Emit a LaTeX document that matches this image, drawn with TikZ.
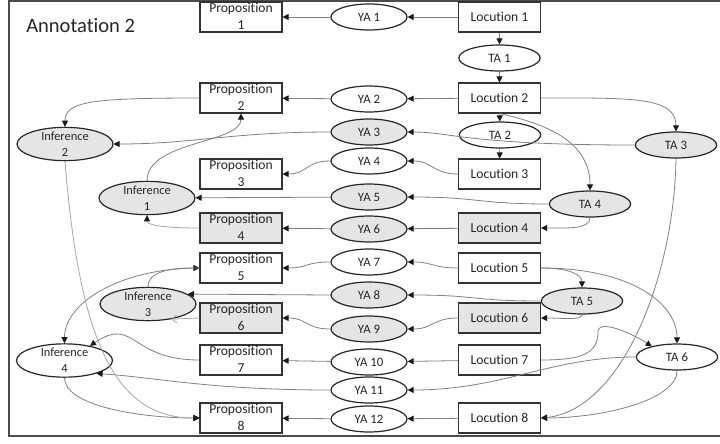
\documentclass[tikz,border=0pt]{standalone}
\usepackage{fontspec}
\setmainfont[Ligatures=NoCommon]{Carlito}
\usetikzlibrary{arrows.meta, shapes.geometric}

% two lines of text that do not stretch the node
\newcommand{\twoline}[2]{\raisebox{-3.2pt}[0pt][0pt]{\begin{tabular}{@{}c@{}}#1\\#2\end{tabular}}}

\begin{document}
\begin{tikzpicture}[x=0.75pt, y=-0.75pt,
    propbox/.style={draw=black!80, line width=0.8pt, fill=white, text=black!85, minimum width=61.5pt, minimum height=22.5pt, inner sep=0pt, font=\fontsize{10.2}{12.6}\selectfont},
    yanode/.style={ellipse, draw=black!85, line width=0.9pt, fill=white, text=black!85, minimum width=57pt, minimum height=19.5pt, inner sep=0pt, font=\fontsize{9.6}{11.5}\selectfont},
    tanode/.style={yanode, minimum width=61pt},
    infnode/.style={yanode, minimum width=72pt, minimum height=25pt, font=\fontsize{9.3}{12}\selectfont},
    shaded/.style={fill=black!10},
    link/.style={draw=black!50, line width=0.6pt, -{Triangle[length=4.5pt, width=4.5pt, color=black!90]}},
    weaklink/.style={draw=black!35, line width=0.6pt, -{Triangle[length=4.5pt, width=4.5pt, color=black!90]}}]
    \useasboundingbox (0,0) rectangle (720,443);
    \draw[black!70, line width=1.2pt] (720,1) -| (9,436) -- (720,436);
    \node[anchor=west, inner sep=0pt, text=black!85, font=\fontsize{15.4}{18}\selectfont] (title) at (26,26) {Annotation 2};

    % Propositions
    \node[propbox] (prop1) at (241,17) {\twoline{Proposition}{1}};
    \node[propbox] (prop2) at (241,98) {\twoline{Proposition}{2}};
    \node[propbox] (prop3) at (241,174) {\twoline{Proposition}{3}};
    \node[propbox, shaded] (prop4) at (241,228) {\twoline{Proposition}{4}};
    \node[propbox] (prop5) at (241,268) {\twoline{Proposition}{5}};
    \node[propbox, shaded] (prop6) at (241,318) {\twoline{Proposition}{6}};
    \node[propbox] (prop7) at (241,360) {\twoline{Proposition}{7}};
    \node[propbox] (prop8) at (241,418) {\twoline{Proposition}{8}};

    % YA nodes
    \node[yanode] (ya1) at (369,17) {YA 1};
    \node[yanode] (ya2) at (369,99) {YA 2};
    \node[yanode, shaded] (ya3) at (369,132) {YA 3};
    \node[yanode] (ya4) at (369,161) {YA 4};
    \node[yanode, shaded] (ya5) at (369,197) {YA 5};
    \node[yanode, shaded] (ya6) at (369,229) {YA 6};
    \node[yanode] (ya7) at (369,262) {YA 7};
    \node[yanode, shaded] (ya8) at (369,295) {YA 8};
    \node[yanode, shaded] (ya9) at (369,329) {YA 9};
    \node[yanode] (ya10) at (369,362) {YA 10};
    \node[yanode] (ya11) at (369,390) {YA 11};
    \node[yanode] (ya12) at (369,419) {YA 12};

    % Locutions
    \node[propbox] (loc1) at (499.5,17) {Locution 1};
    \node[propbox] (loc2) at (499.5,98) {Locution 2};
    \node[propbox] (loc3) at (499.5,174) {Locution 3};
    \node[propbox, shaded] (loc4) at (499.5,228) {Locution 4};
    \node[propbox] (loc5) at (499.5,268) {Locution 5};
    \node[propbox, shaded] (loc6) at (499.5,318) {Locution 6};
    \node[propbox] (loc7) at (499.5,360) {Locution 7};
    \node[propbox] (loc8) at (499.5,418) {Locution 8};

    % TA nodes
    \node[tanode] (ta1) at (499.5,58) {TA 1};
    \node[tanode] (ta2) at (500,135) {TA 2};
    \node[tanode, shaded] (ta3) at (676,145) {TA 3};
    \node[tanode, shaded] (ta4) at (590,204) {TA 4};
    \node[tanode, shaded] (ta5) at (582,301) {TA 5};
    \node[tanode] (ta6) at (677,357) {TA 6};

    % Inferences
    \node[infnode, shaded] (inf2) at (65,144) {\twoline{Inference}{2}};
    \node[infnode, shaded] (inf1) at (147,198) {\twoline{Inference}{1}};
    \node[infnode, shaded] (inf3) at (148,304) {\twoline{Inference}{3}};
    \node[infnode] (inf4) at (64.5,360.5) {\twoline{Inference}{4}};

    % Locution -> YA -> Proposition
    \draw[link] (loc1) -- (ya1);
    \draw[link] (ya1) -- (prop1);
    \draw[link] (loc2) -- (ya2);
    \draw[link] (ya2) -- (prop2);
    \draw[link] (loc3.west) .. controls +(-25,0) and +(25,0) .. (ya4.east);
    \draw[link] (ya4.west) .. controls +(-25,0) and +(25,0) .. (prop3.east);
    \draw[link] (loc4) -- (ya6);
    \draw[link] (ya6) -- (prop4);
    \draw[link] (loc5.west) .. controls +(-25,0) and +(25,0) .. (ya7.east);
    \draw[link] (ya7.west) .. controls +(-25,0) and +(25,0) .. (prop5.east);
    \draw[link] (loc6.west) .. controls +(-25,0) and +(25,0) .. (ya9.east);
    \draw[link] (ya9.west) .. controls +(-25,0) and +(25,0) .. (prop6.east);
    \draw[link] (loc7) -- (ya10);
    \draw[link] (ya10) -- (prop7);
    \draw[link] (loc8) -- (ya12);
    \draw[link] (ya12) -- (prop8);

    % transitions
    \draw[link] (loc1) -- (ta1);
    \draw[link] (ta1) -- (loc2);
    \draw[link] (loc2) -- (ta2);
    \draw[link] (ta2) -- (loc3);
    \draw[link] (loc2.east) .. controls +(90,0) and +(0,-35) .. (ta3.north);
    \draw[link] (loc2.south) .. controls +(55,12) and +(0,-45) .. (ta4.north);
    \draw[link] (ta4.south) .. controls +(0,12) and +(25,0) .. (loc4.east);
    \draw[link] (loc5.east) .. controls +(30,0) and +(0,-12) .. (ta5.north);
    \draw[link] (loc5.east) .. controls +(90,0) and +(0,-40) .. (ta6.north);
    \draw[link] (ta5.south) .. controls +(0,6) and +(22,0) .. (loc6.east);
    \draw[link] (loc7.east) .. controls +(40,0) and +(0,22) .. (598,332) .. controls +(0,-14) and +(-18,-12) .. (ta6.157);
    \draw[link] (ta6.south) .. controls +(0,30) and +(60,0) .. (loc8.east);
    \draw[link] (ta3.south) .. controls +(-2,120) and +(80,-8) .. (loc8.east);

    % TA -> YA
    \draw[link] (ta3.west) .. controls +(-166,0) and +(43,0) .. (ya3.east);
    \draw[link] (ta4.west) .. controls +(-70,0) and +(70,0) .. (ya5.east);
    \draw[link] (ta5.west) .. controls +(-70,0) and +(70,0) .. (ya8.east);
    \draw[link] (ta6.west) .. controls +(-85,0) and +(95,0) .. (ya11.east);

    % YA -> Inference
    \draw[link] (ya3.west) .. controls +(-100,0) and +(80,0) .. (inf2.east);
    \draw[link] (ya5) -- (inf1);
    \draw[link] (ya8.west) -- (inf3.14);
    \draw[link] (ya11.west) .. controls +(-120,0) and +(60,4) .. (inf4.-22);

    % Inference arguments
    \draw[link] (prop2.west) .. controls +(-110,0) and +(0,-25) .. (inf2.north);
    \draw[link] (inf1.north) .. controls +(0,-40) and +(0,30) .. (prop2.south);
    \draw[weaklink] (prop4.west) .. controls +(-35,0) and +(0,10) .. (inf1.south);
    \draw[link] (inf3.north) .. controls +(0,-15) and +(-30,0) .. (prop5.west);
    \draw[link] (prop5.west) .. controls +(-80,0) and +(0,-40) .. (inf4.north);
    \draw[draw=black!35, line width=0.6pt, -{Straight Barb[length=3.5pt, width=6pt]}] (prop6.west) -- (inf3.-33);
    \draw[link] (prop7.west) .. controls +(-70,0) and +(45,-30) .. (inf4.30);
    \draw[link] (inf4.south) .. controls +(0,28) and +(-60,0) .. (prop8.west);
    \draw[weaklink] (inf2.south) .. controls +(15,190) and +(-80,0) .. (prop8.west);
\end{tikzpicture}
\end{document}
